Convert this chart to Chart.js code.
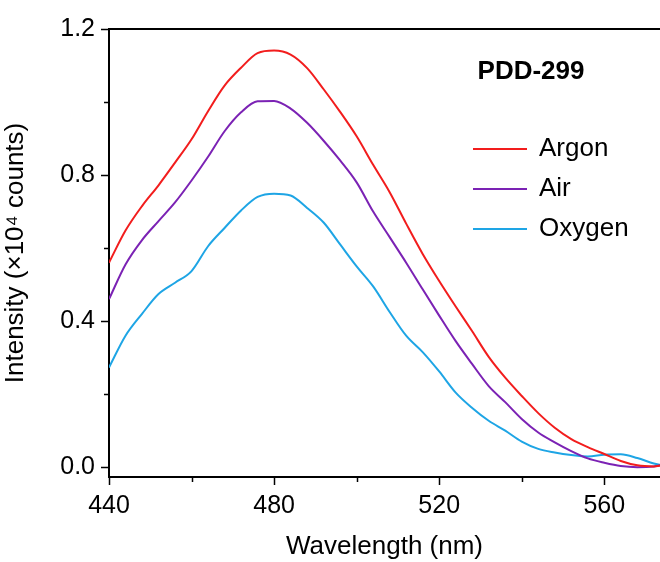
<!DOCTYPE html>
<html>
<head>
<meta charset="utf-8">
<script src="https://cdn.jsdelivr.net/npm/chart.js@4"></script>
<style>
  body { margin: 0; background: #fff; }
  #wrap { width: 660px; height: 562px; }
</style>
</head>
<body>
<div id="wrap"><canvas id="spectrum" width="660" height="562"></canvas></div>
<script>
// wavelength (nm) and intensity (x10^4 counts)
const wavelengths = [440, 444, 448, 452, 456, 460, 464, 468, 472, 476, 480, 484, 488, 492, 496, 500, 504, 508,
    512, 516, 520, 524, 528, 532, 536, 540, 544, 548, 552, 556, 560, 564, 568, 572, 574];
const argon = [0.56, 0.648, 0.715, 0.772, 0.834, 0.898, 0.975, 1.045, 1.094, 1.134, 1.141, 1.130, 1.093, 1.035,
    0.973, 0.906, 0.828, 0.753, 0.667, 0.584, 0.51, 0.44, 0.372, 0.302, 0.245, 0.195, 0.148, 0.108, 0.077,
    0.055, 0.036, 0.017, 0.005, 0.002, 0.005];
const air = [0.46, 0.555, 0.622, 0.674, 0.725, 0.785, 0.85, 0.92, 0.972, 1.002, 1.003, 0.982, 0.943, 0.894,
    0.84, 0.78, 0.70, 0.63, 0.56, 0.487, 0.415, 0.345, 0.282, 0.222, 0.178, 0.132, 0.095, 0.068, 0.044, 0.024,
    0.012, 0.003, 0.0, 0.002, 0.006];
const oxygen = [0.273, 0.36, 0.42, 0.474, 0.505, 0.537, 0.605, 0.655, 0.703, 0.74, 0.749, 0.744, 0.71, 0.67,
    0.61, 0.55, 0.495, 0.425, 0.36, 0.315, 0.262, 0.204, 0.162, 0.127, 0.10, 0.07, 0.05, 0.04, 0.033,
    0.029, 0.034, 0.035, 0.025, 0.01, 0.005];

const seriesNames = ['Argon', 'Air', 'Oxygen'];
const seriesColors = ['#f21d1d', '#7b22b4', '#1ea5e5'];

const xTicks = [440, 460, 480, 500, 520, 540, 560];
const xTickLabels = ['440', '480', '520', '560'];
const yTicks = [0, 0.2, 0.4, 0.6, 0.8, 1.0, 1.2];
const yTickLabels = ['0.0', '0.4', '0.8', '1.2'];

const FONT = "'Liberation Sans', Arial, sans-serif";
Chart.defaults.font.family = FONT;
Chart.defaults.color = '#000';

function toPoints(values) {
    return wavelengths.map((w, i) => ({ x: w, y: values[i] }));
}

// top frame line, outward ticks and the in-plot legend
const framePlugin = {
    id: 'frame',
    afterDraw(chart) {
        const ctx = chart.ctx;
        const area = chart.chartArea;
        const xs = chart.scales.x;
        const ys = chart.scales.y;
        ctx.save();
        ctx.strokeStyle = '#000';
        ctx.lineWidth = 2;
        ctx.beginPath();
        ctx.moveTo(area.left - 1, area.top);
        ctx.lineTo(area.right, area.top);
        ctx.stroke();

        ctx.lineWidth = 1.5;
        xTicks.forEach(v => {
            const px = Math.round(xs.getPixelForValue(v)) + 0.5;
            const len = xTickLabels.includes(String(v)) ? 8 : 5;
            ctx.beginPath();
            ctx.moveTo(px, area.bottom);
            ctx.lineTo(px, area.bottom + len);
            ctx.stroke();
        });
        yTicks.forEach(v => {
            const py = Math.round(ys.getPixelForValue(v)) + 0.5;
            const len = yTickLabels.includes(v.toFixed(1)) ? 8 : 5;
            ctx.beginPath();
            ctx.moveTo(area.left, py);
            ctx.lineTo(area.left - len, py);
            ctx.stroke();
        });

        // legend
        ctx.fillStyle = '#000';
        ctx.font = 'bold 26px ' + FONT;
        ctx.textAlign = 'center';
        ctx.textBaseline = 'middle';
        ctx.fillText('PDD-299', 531, 72);
        ctx.font = '26px ' + FONT;
        ctx.textAlign = 'left';
        chart.data.datasets.forEach((ds, i) => {
            const y = 149 + i * 40;
            ctx.strokeStyle = ds.borderColor;
            ctx.lineWidth = 2;
            ctx.beginPath();
            ctx.moveTo(473, y);
            ctx.lineTo(527, y);
            ctx.stroke();
            ctx.fillText(ds.label, 539, y);
        });
        ctx.restore();
    }
};

new Chart(document.getElementById('spectrum'), {
    type: 'line',
    data: {
        datasets: [
            { label: seriesNames[0], data: toPoints(argon), borderColor: seriesColors[0] },
            { label: seriesNames[1], data: toPoints(air), borderColor: seriesColors[1] },
            { label: seriesNames[2], data: toPoints(oxygen), borderColor: seriesColors[2] }
        ].map(ds => Object.assign(ds, { borderWidth: 2, pointRadius: 0, cubicInterpolationMode: 'monotone', fill: false }))
    },
    options: {
        responsive: false,
        animation: false,
        layout: { padding: { top: 28, right: 0, left: 0, bottom: 0 } },
        plugins: { legend: { display: false }, tooltip: { enabled: false } },
        scales: {
            x: {
                type: 'linear',
                min: 440,
                max: 573.5,
                afterBuildTicks(scale) { scale.ticks = xTicks.map(v => ({ value: v })); },
                afterFit(scale) { scale.height = 85; },
                ticks: {
                    autoSkip: false,
                    maxRotation: 0,
                    padding: 14,
                    font: { size: 25 },
                    callback: v => xTickLabels.includes(String(v)) ? String(v) : ''
                },
                grid: { display: false, drawTicks: false },
                border: { display: true, color: '#000', width: 2 },
                title: { display: true, text: 'Wavelength (nm)', font: { size: 26 }, padding: { top: 4, bottom: 0 } }
            },
            y: {
                min: -0.027,
                max: 1.2,
                afterBuildTicks(scale) { scale.ticks = yTicks.map(v => ({ value: v })); },
                afterFit(scale) { scale.width = 109; },
                ticks: {
                    autoSkip: false,
                    padding: 14,
                    font: { size: 25 },
                    callback: v => {
                        const s = Number(v).toFixed(1);
                        return yTickLabels.includes(s) ? s : '';
                    }
                },
                grid: { display: false, drawTicks: false },
                border: { display: true, color: '#000', width: 2 },
                title: { display: true, text: 'Intensity (×10⁴ counts)', font: { size: 26 }, padding: { top: 0, bottom: 4 } }
            }
        }
    },
    plugins: [framePlugin]
});
</script>
</body>
</html>
